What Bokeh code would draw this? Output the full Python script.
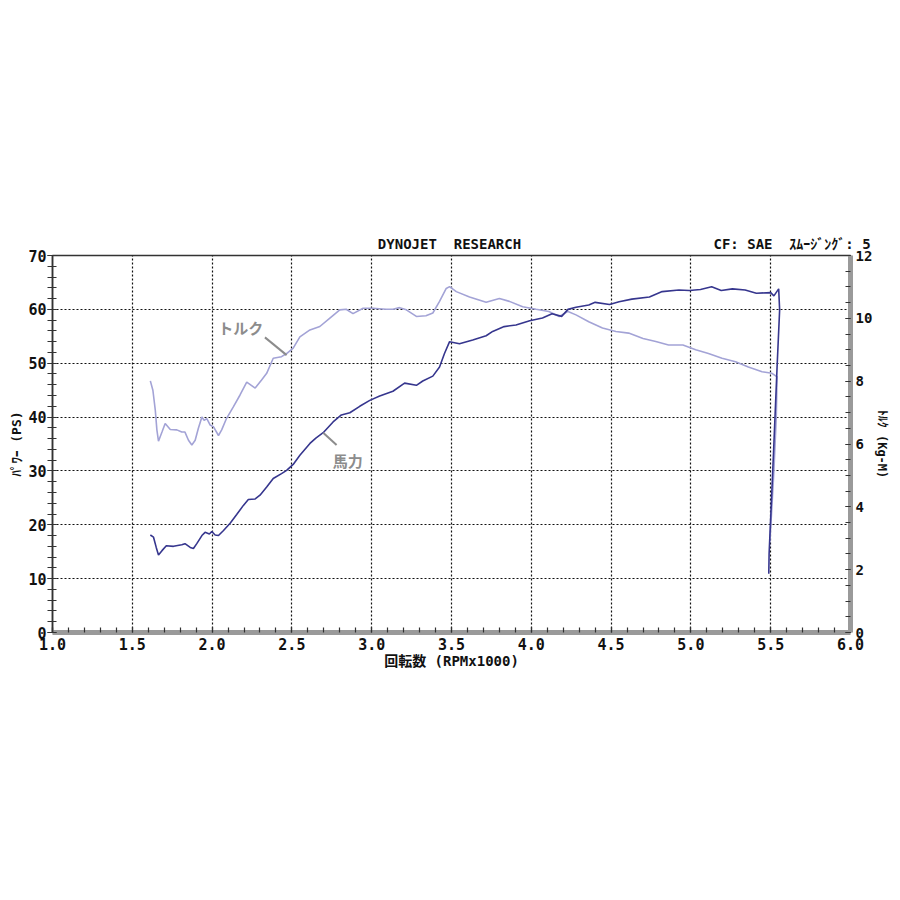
import math
from bokeh.plotting import figure
from bokeh.models import (Range1d, LinearAxis, FixedTicker, PrintfTickFormatter, Label)
from bokeh.embed import file_html
from bokeh.resources import INLINE

# ---------------- data ----------------
power_rpm = [1.613, 1.633, 1.650, 1.664, 1.686, 1.713, 1.758, 1.810, 1.830, 1.863, 1.883, 1.904,
             1.936, 1.956, 1.983, 1.998, 2.019, 2.040, 2.070, 2.113, 2.154, 2.196, 2.227, 2.270,
             2.300, 2.342, 2.383, 2.435, 2.467, 2.508, 2.550, 2.613, 2.650, 2.696, 2.758, 2.810,
             2.863, 2.925, 2.988, 3.050, 3.133, 3.206, 3.280, 3.320, 3.383, 3.425, 3.456, 3.488,
             3.550, 3.633, 3.717, 3.758, 3.830, 3.904, 3.990, 4.070, 4.130, 4.190, 4.230, 4.280,
             4.360, 4.400, 4.490, 4.550, 4.630, 4.740, 4.820, 4.925, 4.990, 5.060, 5.130, 5.190,
             5.260, 5.340, 5.410, 5.500, 5.520, 5.550, 5.556, 5.540, 5.520, 5.504, 5.490, 5.488]
power_ps = [18.1, 17.7, 15.8, 14.4, 15.2, 16.1, 16.0, 16.3, 16.5, 15.8, 15.6, 16.5,
            18.0, 18.6, 18.3, 18.75, 18.1, 18.0, 18.9, 20.3, 21.9, 23.6, 24.7, 24.8,
            25.5, 27.0, 28.6, 29.5, 30.1, 31.2, 32.9, 35.1, 36.1, 37.1, 39.1, 40.4,
            40.8, 42.0, 43.1, 43.9, 44.8, 46.3, 45.9, 46.7, 47.6, 49.3, 51.8, 54.0,
            53.6, 54.3, 55.1, 55.9, 56.8, 57.1, 57.9, 58.4, 59.2, 58.7, 60.0, 60.4,
            60.8, 61.3, 60.9, 61.4, 61.9, 62.3, 63.3, 63.6, 63.5, 63.7, 64.2, 63.5,
            63.8, 63.6, 63.0, 63.1, 62.5, 63.8, 59.9, 49.3, 35.0, 24.0, 14.6, 10.9]

torque_rpm = [1.613, 1.629, 1.644, 1.654, 1.664, 1.686, 1.706, 1.738, 1.779, 1.810, 1.830, 1.852,
              1.873, 1.894, 1.914, 1.936, 1.950, 1.967, 1.988, 2.008, 2.040, 2.060, 2.090, 2.133,
              2.175, 2.217, 2.270, 2.310, 2.342, 2.383, 2.435, 2.467, 2.508, 2.550, 2.613, 2.675,
              2.738, 2.800, 2.840, 2.883, 2.946, 3.008, 3.090, 3.133, 3.175, 3.217, 3.280, 3.340,
              3.383, 3.425, 3.467, 3.488, 3.530, 3.613, 3.717, 3.800, 3.863, 3.946, 4.030, 4.110,
              4.175, 4.230, 4.280, 4.360, 4.446, 4.530, 4.610, 4.700, 4.780, 4.860, 4.950, 5.030,
              5.110, 5.195, 5.280, 5.360, 5.446, 5.508, 5.540, 5.535, 5.520, 5.505, 5.495]
torque_kgm = [8.01, 7.71, 7.08, 6.45, 6.09, 6.38, 6.65, 6.46, 6.45, 6.38, 6.38, 6.12,
              5.97, 6.12, 6.50, 6.86, 6.75, 6.81, 6.60, 6.55, 6.27, 6.45, 6.81, 7.18,
              7.56, 7.97, 7.78, 8.04, 8.25, 8.73, 8.78, 8.88, 9.05, 9.41, 9.63, 9.74,
              10.01, 10.27, 10.29, 10.15, 10.32, 10.32, 10.29, 10.29, 10.34, 10.27, 10.06, 10.08,
              10.17, 10.54, 10.95, 11.01, 10.85, 10.68, 10.51, 10.63, 10.54, 10.37, 10.29, 10.22,
              10.06, 10.22, 10.11, 9.89, 9.69, 9.58, 9.53, 9.36, 9.26, 9.15, 9.15, 9.00,
              8.88, 8.73, 8.62, 8.45, 8.30, 8.25, 8.14, 6.86, 5.14, 3.77, 2.91]

x_ticks = [1.0, 1.5, 2.0, 2.5, 3.0, 3.5, 4.0, 4.5, 5.0, 5.5, 6.0]
ps_ticks = [0, 10, 20, 30, 40, 50, 60, 70]
kgm_ticks = [0, 2, 4, 6, 8, 10, 12]

NB = "\u00a0"
title_text = "DYNOJET" + NB * 2 + "RESEARCH"
info_text = "CF:" + NB + "SAE" + NB * 2 + "ｽﾑｰｼﾞﾝｸﾞ:" + NB + "5"
x_label = "回転数" + NB + "(RPMx1000)"
left_label = "ﾊﾟﾜｰ" + NB + "(PS)"
right_label = "ﾄﾙｸ" + NB + "(Kg-M)"
torque_name = "トルク"
power_name = "馬力"
# header text anchor positions (rpm)
title_pos = 3.4875
info_pos = 5.634
# annotation anchor points (rpm, PS scale)
torque_name_pos = (2.18, 56.7)
torque_leader_x = [2.331, 2.467]
torque_leader_y = [54.8, 51.5]
power_name_pos = (2.85, 32.0)
power_leader_x = [2.696, 2.78]
power_leader_y = [37.1, 34.8]

# ---------------- figure ----------------
MONO = "DejaVu Sans Mono"
JP = "Noto Sans CJK JP"
MIX = MONO + ", " + JP

p = figure(width=896, height=884, output_backend="svg", toolbar_location=None,
           x_range=Range1d(1.0, 6.0), y_range=Range1d(0, 70),
           min_border_left=52, min_border_right=46, min_border_top=255, min_border_bottom=252,
           x_axis_location=None, y_axis_location=None)
p.extra_y_ranges = {"tq": Range1d(0, 12)}
p.background_fill_color = "white"
p.border_fill_color = "white"
p.outline_line_color = "#333333"
p.outline_line_width = 1.5

# axes
xa = LinearAxis(ticker=FixedTicker(ticks=x_ticks, minor_ticks=[round(1.0 + 0.1 * i, 1) for i in range(51)]),
                formatter=PrintfTickFormatter(format="%.1f"))
ya = LinearAxis(ticker=FixedTicker(ticks=ps_ticks, minor_ticks=list(range(0, 71, 2))))
yr = LinearAxis(y_range_name="tq", ticker=FixedTicker(ticks=kgm_ticks, minor_ticks=[0.5 * i for i in range(25)]))
top = LinearAxis(ticker=FixedTicker(ticks=[title_pos, info_pos], minor_ticks=[]),
                 major_label_overrides={title_pos: title_text, info_pos: info_text})

for ax in (xa, ya, yr, top):
    ax.major_label_text_font = MIX
    ax.major_label_text_font_style = "bold"
    ax.major_label_text_font_size = "15px"
    ax.major_label_text_color = "#111111"
    ax.major_tick_line_color = "#333333"
    ax.minor_tick_line_color = "#333333"
    ax.major_tick_line_width = 1.2
    ax.minor_tick_line_width = 1.2
    ax.axis_label_text_font = MIX
    ax.axis_label_text_font_style = "bold"
    ax.axis_label_text_font_size = "14px"
    ax.axis_label_text_color = "#111111"

top.axis_line_color = None
top.major_tick_line_color = None
top.minor_tick_line_color = None
top.major_label_text_font_size = "14px"
top.major_label_standoff = -2

xa.axis_line_color = "#9a9a9a"
xa.axis_line_width = 5
xa.major_tick_in = 5
xa.major_tick_out = 0
xa.minor_tick_in = 5
xa.minor_tick_out = 0
xa.major_label_standoff = 5
xa.axis_label = x_label
xa.axis_label_standoff = 0

ya.axis_line_color = "#333333"
ya.axis_line_width = 1.5
ya.major_tick_in = 4
ya.major_tick_out = 5
ya.minor_tick_in = 4
ya.minor_tick_out = 5
ya.major_label_standoff = 1
ya.axis_label = left_label
ya.axis_label_standoff = 1
ya.axis_label_text_font_size = "13px"

yr.axis_line_color = "#9a9a9a"
yr.axis_line_width = 5
yr.major_tick_in = 5
yr.major_tick_out = 0
yr.minor_tick_in = 5
yr.minor_tick_out = 0
yr.major_label_standoff = 5
yr.major_label_text_font_size = "14px"
yr.major_label_text_align = "left"
yr.axis_label = right_label
yr.axis_label_standoff = 0
yr.axis_label_text_font_size = "12px"

p.add_layout(xa, "below")
p.add_layout(ya, "left")
p.add_layout(yr, "right")
p.add_layout(top, "above")

# grids
p.xgrid.ticker = FixedTicker(ticks=x_ticks[1:-1])
p.ygrid.ticker = FixedTicker(ticks=ps_ticks[1:-1])
for g in (p.xgrid, p.ygrid):
    g.grid_line_color = "#111111"
    g.grid_line_dash = "2 2"
    g.grid_line_width = 1.2

# curves
p.line(torque_rpm, torque_kgm, y_range_name="tq", line_color="#a3a3d6", line_width=1.6)
p.line(power_rpm, power_ps, line_color="#36368e", line_width=1.6)

# leader lines
p.line(torque_leader_x, torque_leader_y, line_color="#8c8c8c", line_width=2)
p.line(power_leader_x, power_leader_y, line_color="#8c8c8c", line_width=2)

for pos, txt in ((torque_name_pos, torque_name), (power_name_pos, power_name)):
    p.add_layout(Label(x=pos[0], y=pos[1], text=txt, text_font=JP, text_font_size="15px",
                       text_font_style="bold", text_color="#8c8c8c", text_align="center",
                       text_baseline="middle"))

open("out.html", "w").write(file_html(p, INLINE))
